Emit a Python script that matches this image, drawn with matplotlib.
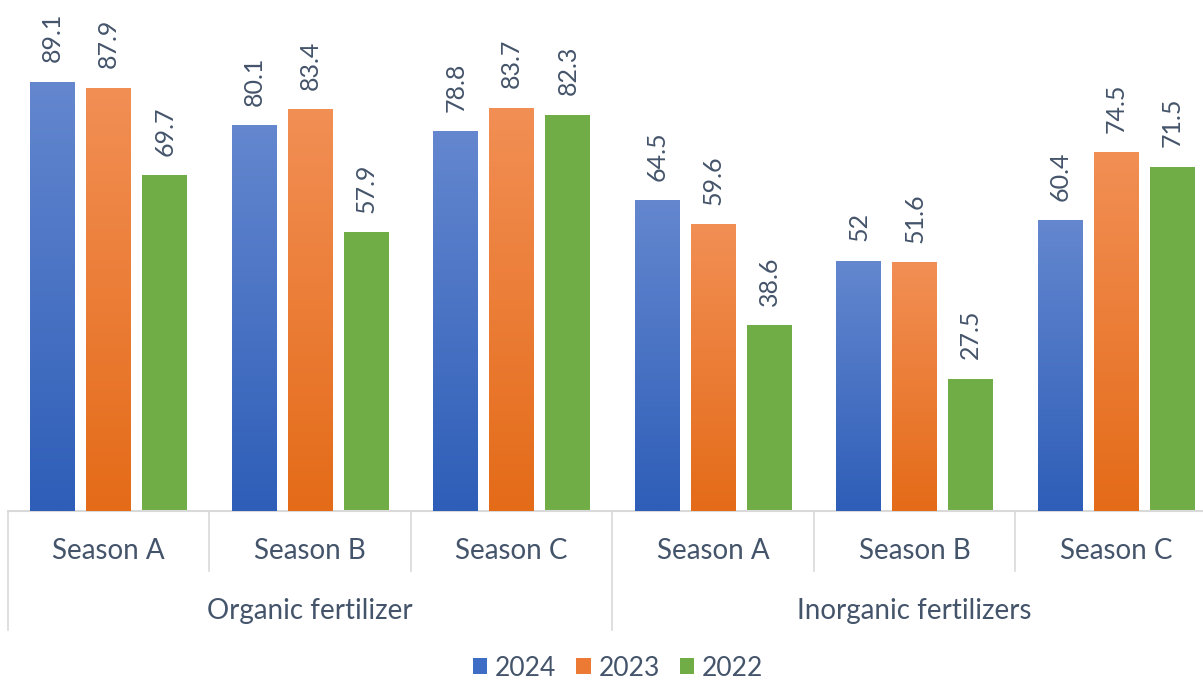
import numpy as np
import matplotlib.pyplot as plt
from matplotlib.colors import LinearSegmentedColormap
from matplotlib.patches import Patch

# データ
seasons = ["Season A", "Season B", "Season C", "Season A", "Season B", "Season C"]
groups = ["Organic fertilizer", "Inorganic fertilizers"]
years = ["2024", "2023", "2022"]
v2024 = [89.1, 80.1, 78.8, 64.5, 52, 60.4]
v2023 = [87.9, 83.4, 83.7, 59.6, 51.6, 74.5]
v2022 = [69.7, 57.9, 82.3, 38.6, 27.5, 71.5]

text_col = "#44546A"
grid_col = "#D9D9D9"
plt.rcParams['font.family'] = ['Lato', 'DejaVu Sans']

fig = plt.figure(figsize=(12.03, 6.82), dpi=100)
W, H = 1203, 682
# 軸の位置（ピクセルから計算）
ax = fig.add_axes([8 / W, 171 / H, 1209 / W, 511 / H])

x = np.arange(len(seasons))
step = 0.278
width = 0.223
series = [v2024, v2023, v2022]
# 上から下へのグラデーション (上: 明るい, 下: 濃い)
cmaps = [
    LinearSegmentedColormap.from_list("b", ["#2E5EB8", "#6487CF"]),
    LinearSegmentedColormap.from_list("o", ["#E46B18", "#F28F55"]),
    None,
]
solid = ["#4472C4", "#ED7D31", "#70AD47"]

grad = np.linspace(0, 1, 256).reshape(-1, 1)
for i, vals in enumerate(series):
    pos = x + (i - 1) * step
    bars = ax.bar(pos, vals, width, color=solid[i], zorder=2, linewidth=0)
    for b, v in zip(bars, vals):
        if cmaps[i] is not None:
            x0 = b.get_x()
            im = ax.imshow(grad, cmap=cmaps[i], aspect='auto', origin='lower',
                           extent=[x0, x0 + width, 0, v], zorder=3)
            im.set_clip_path(b)
        ax.annotate(f"{v:g}", (b.get_x() + width / 2, v), xytext=(0, 14),
                    textcoords='offset points', rotation=90, ha='center',
                    va='bottom', fontsize=18, color=text_col, zorder=4)

ax.set_xlim(-0.5, 5.5)
ax.set_ylim(0, 106.1)
ax.axis('off')

# 横軸の線と区切り線
trans = ax.get_xaxis_transform()
ax.plot([-0.5, 5.5], [0, 0], color=grid_col, lw=1.5, transform=trans, clip_on=False)
for k in range(7):
    xb = k - 0.5
    low = -0.233 if k in (0, 3, 6) else -0.1174
    ax.plot([xb, xb], [0, low], color=grid_col, lw=1.2, transform=trans, clip_on=False)

for xi, s in zip(x, seasons):
    ax.text(xi, -40 / 511, s, transform=trans, ha='center', va='center',
            fontsize=20, color=text_col)
for gi, g in enumerate(groups):
    ax.text(gi * 3 + 1, -100 / 511, g, transform=trans, ha='center', va='center',
            fontsize=20, color=text_col)

handles = [Patch(facecolor=c, edgecolor='none') for c in ["#3F6CC4", "#EC7A35", "#70AD47"]]
fig.legend(handles, years, loc='center', bbox_to_anchor=(618 / W, 1 - 668 / H),
           ncol=3, frameon=False, fontsize=19, handlelength=0.55, handleheight=0.55,
           handletextpad=0.3, columnspacing=0.75, labelcolor=text_col)

fig.savefig("out.png", dpi=100)
